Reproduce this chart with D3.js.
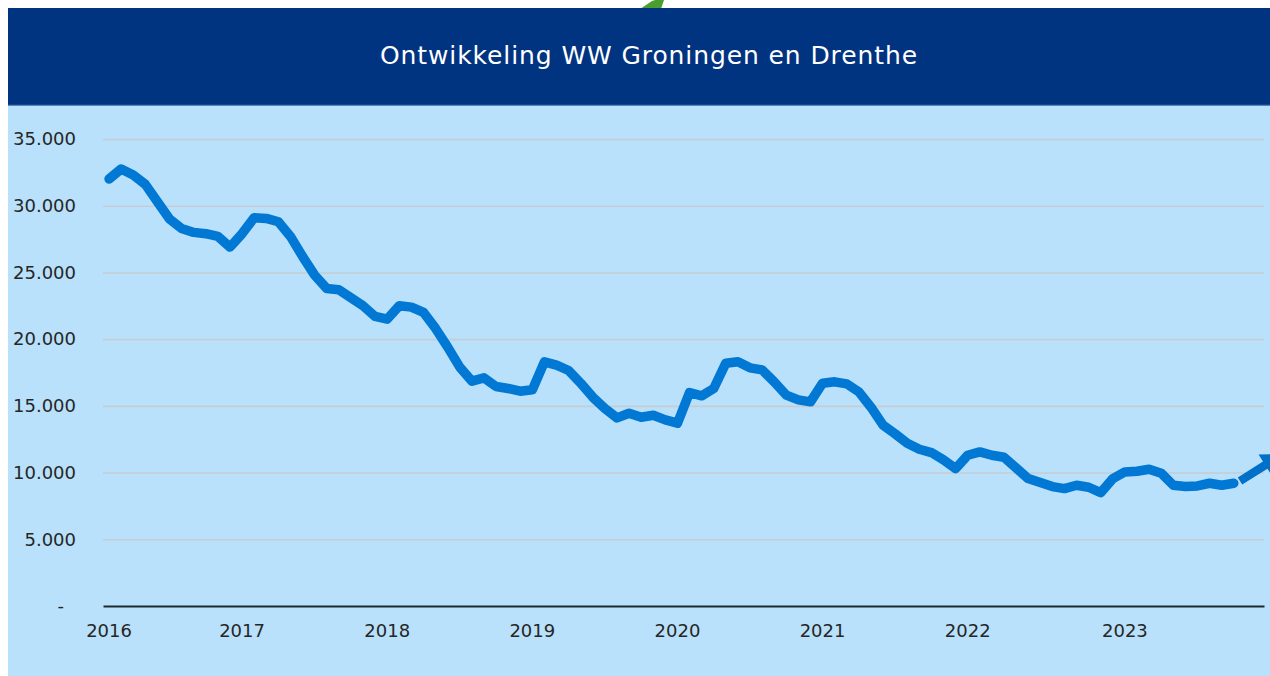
<!DOCTYPE html>
<html>
<head>
<meta charset="utf-8">
<script src="https://cdn.jsdelivr.net/npm/d3@7"></script>
<style>
  html, body { margin: 0; padding: 0; background: #ffffff; }
  svg { display: block; }
  text { font-family: "DejaVu Sans", Verdana, sans-serif; }
</style>
</head>
<body>
<svg id="chart" width="1270" height="676"></svg>
<script>
// ---- data ----
const chartTitle = "Ontwikkeling WW Groningen en Drenthe";
const categoryCount = 96; // monthly category slots on the axis
const wwValues = [
  32000, 32750, 32300, 31600, 30300, 29000, 28300, 28000, 27900, 27700, 26900, 27900,
  29100, 29050, 28800, 27700, 26200, 24800, 23800, 23700, 23100, 22500, 21700, 21500,
  22500, 22400, 22000, 20800, 19400, 17900, 16850, 17100, 16450, 16300, 16100, 16200,
  18300, 18050, 17650, 16700, 15650, 14800, 14100, 14450, 14150, 14300, 13950, 13700,
  16000, 15750, 16300, 18200, 18300, 17850, 17700, 16800, 15800, 15450, 15300, 16700,
  16800, 16650, 16050, 14900, 13550, 12900, 12200, 11750, 11500, 10950, 10300, 11300,
  11550, 11300, 11150, 10350, 9550, 9250, 8950, 8800, 9050, 8900, 8500, 9550,
  10050, 10100, 10250, 9950, 9050, 8950, 9000, 9200, 9050, 9200
];
const yearLabels = ["2016", "2017", "2018", "2019", "2020", "2021", "2022", "2023"];
const yearLabelIndex = [0, 11, 23, 35, 47, 59, 71, 84];
const yTicks = [0, 5000, 10000, 15000, 20000, 25000, 30000, 35000];

// ---- layout ----
const svg = d3.select("#chart");
const W = 1270, H = 676;
const plot = { left: 103, right: 1264, top: 139, bottom: 606 };

svg.append("rect").attr("x", 0).attr("y", 0).attr("width", W).attr("height", H).attr("fill", "#ffffff");

// green decorative arrow tip (behind header)
svg.append("polygon")
  .attr("points", "640,9 652,1 665,-3 661,9")
  .attr("fill", "#4a9e2f");

// panel
svg.append("rect").attr("x", 8).attr("y", 8).attr("width", W - 8).attr("height", H - 8).attr("fill", "#b9e1fb");
// header
svg.append("rect").attr("x", 8).attr("y", 8).attr("width", W - 8).attr("height", 97).attr("fill", "#003380");
svg.append("rect").attr("x", 8).attr("y", 104.5).attr("width", W - 8).attr("height", 1.2).attr("fill", "#2d5b9a");

svg.append("text")
  .attr("x", 649).attr("y", 64)
  .attr("text-anchor", "middle")
  .attr("fill", "#ffffff")
  .attr("font-size", 25)
  .attr("letter-spacing", 0.9)
  .text(chartTitle);

// ---- scales ----
const x = d3.scaleBand().domain(d3.range(categoryCount)).range([plot.left, plot.right]).paddingInner(0).paddingOuter(0);
const xc = i => x(i) + x.bandwidth() / 2;
const y = d3.scaleLinear().domain([0, 35000]).range([plot.bottom, plot.top]);

const fmt = v => v === 0 ? "-" : d3.format(",")(v).replace(/,/g, ".");

// y axis + gridlines
const yAxis = svg.append("g")
  .attr("transform", `translate(${plot.left},0)`)
  .call(d3.axisLeft(y).tickValues(yTicks).tickFormat(fmt).tickSize(-(plot.right - plot.left)).tickPadding(27));
yAxis.select(".domain").remove();
yAxis.selectAll(".tick line")
  .attr("stroke", d => d === 0 ? "none" : "#c5cdd3")
  .attr("stroke-width", 1.6);
yAxis.selectAll(".tick text")
  .attr("fill", "#262626")
  .attr("font-size", 18)
  .attr("font-family", "DejaVu Sans, sans-serif")
  .attr("dx", d => d === 0 ? -12 : 0);

// x axis
const xAxis = svg.append("g")
  .attr("transform", `translate(0,${plot.bottom})`)
  .call(d3.axisBottom(x).tickValues(yearLabelIndex).tickFormat((d, i) => yearLabels[i]).tickSize(0).tickPadding(18));
xAxis.select(".domain").attr("stroke", "#1e2a33").attr("stroke-width", 2.2);
xAxis.selectAll(".tick text")
  .attr("fill", "#262626")
  .attr("font-size", 18)
  .attr("font-family", "DejaVu Sans, sans-serif");

// ---- line ----
const line = d3.line().x((d, i) => xc(i)).y(d => y(d));
svg.append("path")
  .datum(wwValues)
  .attr("d", line)
  .attr("fill", "none")
  .attr("stroke", "#0078d4")
  .attr("stroke-width", 9.5)
  .attr("stroke-linejoin", "round")
  .attr("stroke-linecap", "round");

// blue decorative arrow at right
const a0 = [1240, 481], a1 = [1283, 454];
const dx = a1[0] - a0[0], dy = a1[1] - a0[1], len = Math.hypot(dx, dy);
const ux = dx / len, uy = dy / len, px = -uy, py = ux;
const headLen = 21, headHalf = 12.5, shaftHalf = 4.2;
const hb = [a1[0] - ux * headLen, a1[1] - uy * headLen];
svg.append("polygon")
  .attr("points", [
    [a0[0] + px * shaftHalf, a0[1] + py * shaftHalf],
    [hb[0] + px * shaftHalf, hb[1] + py * shaftHalf],
    [hb[0] + px * headHalf, hb[1] + py * headHalf],
    a1,
    [hb[0] - px * headHalf, hb[1] - py * headHalf],
    [hb[0] - px * shaftHalf, hb[1] - py * shaftHalf],
    [a0[0] - px * shaftHalf, a0[1] - py * shaftHalf]
  ].map(p => p.join(",")).join(" "))
  .attr("fill", "#0070c8");
</script>
</body>
</html>
